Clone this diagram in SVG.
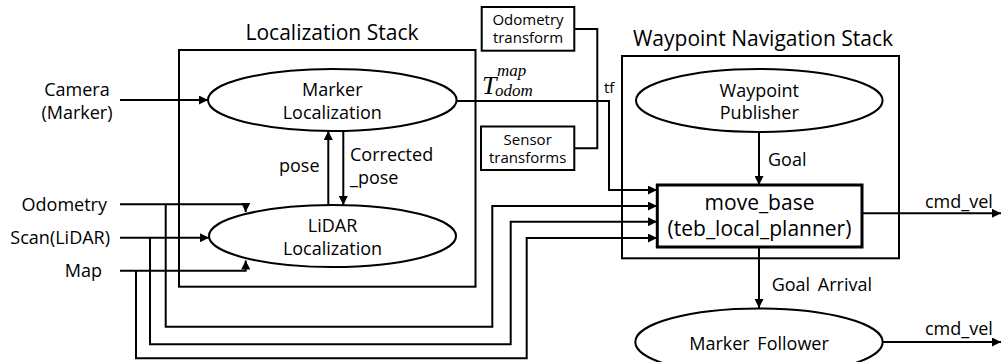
<svg xmlns="http://www.w3.org/2000/svg" width="1002" height="362" viewBox="0 0 1002 362">
<style>
text{font-family:"Open Sans","Noto Sans",sans-serif;fill:#000;font-size:18px}
.c{text-anchor:middle}
.e{text-anchor:end}
.t{font-size:21px}
.s{font-size:15px}
.b{font-size:21px}
.box{fill:#fff;stroke:#000;stroke-width:2}
.frame{fill:none;stroke:#000;stroke-width:2}
.ell{fill:#fff;stroke:#000;stroke-width:2}
.ln{fill:none;stroke:#000;stroke-width:2}
.ar{fill:none;stroke:#000;stroke-width:2;marker-end:url(#ah)}
.m{font-family:"Liberation Serif",serif;font-style:italic;font-size:17px}
.mt{font-size:26px}
</style>
<defs>
<marker id="ah" viewBox="0 0 10 10" refX="10" refY="5" markerWidth="4.5" markerHeight="4.5" orient="auto" markerUnits="strokeWidth">
<path d="M0,0 L10,5 L0,10 z" fill="#000"/>
</marker>
</defs>
<rect width="1002" height="362" fill="#fff"/>

<g id="localization-stack">
<rect class="frame" x="179" y="50" width="296.5" height="236.7"/>
<text class="c t" x="332" y="40">Localization Stack</text>
</g>
<g id="waypoint-navigation-stack">
<rect class="frame" x="622" y="56" width="277" height="202.3"/>
<text class="c t" x="763" y="46">Waypoint Navigation Stack</text>
</g>

<g id="connectors">
<path class="ar" d="M120,100 H208"/>
<path class="ar" d="M120,204.3 H245.7 V212"/>
<path class="ar" d="M120,237.7 H209"/>
<path class="ar" d="M120,270.7 H245.7 V260.5"/>
<path class="ar" d="M165.7,204.3 V326.7 H492.3 V206 H657"/>
<path class="ar" d="M150,237.7 V344.3 H510.7 V221.7 H657"/>
<path class="ar" d="M136,270.7 V358.3 H526.7 V238 H657"/>
<path class="ar" d="M456.7,101 H609 V190 H657"/>
<path class="ln" d="M574.3,29 H597.3 V148.3 H574.3"/>
<path class="ar" d="M328.3,205 V131"/>
<path class="ar" d="M343.3,131 V205"/>
<path class="ar" d="M759,132 V185"/>
<path class="ar" d="M759,247 V308"/>
<path class="ar" d="M862,213.3 H1001"/>
<path class="ar" d="M882.7,342 H1001"/>
</g>

<g id="inputs">
<text class="c" x="77" y="96">Camera</text>
<text class="c" x="77" y="119">(Marker)</text>
<text class="e" x="107" y="210.5">Odometry</text>
<text class="e" x="110" y="243.5">Scan(LiDAR)</text>
<text class="e" x="102" y="277">Map</text>
</g>

<g id="marker-localization">
<ellipse class="ell" cx="332.3" cy="100" rx="124.3" ry="31"/>
<text class="c" x="332.3" y="96">Marker</text>
<text class="c" x="332.3" y="119">Localization</text>
</g>

<g id="lidar-localization">
<ellipse class="ell" cx="332.5" cy="236" rx="123.5" ry="31"/>
<text class="c" x="332.5" y="231.5">LiDAR</text>
<text class="c" x="332.5" y="255">Localization</text>
</g>

<g id="labels">
<text x="279" y="171.5">pose</text>
<text x="350" y="161">Corrected</text>
<text x="350" y="184">_pose</text>
<text x="604" y="93" class="s">tf</text>
<text class="m mt" x="482" y="94">T</text>
<text class="m" x="497" y="76">map</text>
<text class="m" x="495" y="95.5">odom</text>
<text x="768" y="165.5">Goal</text>
<text x="771.7" y="291" style="word-spacing:3px">Goal Arrival</text>
<text x="925" y="208">cmd_vel</text>
<text x="925" y="335">cmd_vel</text>
</g>

<g id="odometry-transform">
<rect class="box" x="481.7" y="7" width="92.6" height="43.7"/>
<text class="c s" x="528" y="25">Odometry</text>
<text class="c s" x="528" y="43.3">transform</text>
</g>

<g id="sensor-transforms">
<rect class="box" x="481" y="126.5" width="93.3" height="43.5"/>
<text class="c s" x="527.7" y="145">Sensor</text>
<text class="c s" x="527.7" y="163.3">transforms</text>
</g>

<g id="waypoint-publisher">
<ellipse class="ell" cx="759.3" cy="100.5" rx="123.3" ry="31.5"/>
<text class="c" x="759.3" y="96.5">Waypoint</text>
<text class="c" x="759.3" y="119">Publisher</text>
</g>

<g id="move-base">
<rect x="657.3" y="185" width="204.7" height="62" fill="#fff" stroke="#000" stroke-width="3"/>
<text class="c b" x="759.5" y="210">move_base</text>
<text class="c b" x="759.5" y="236">(teb_local_planner)</text>
</g>

<g id="marker-follower">
<ellipse class="ell" cx="759" cy="342" rx="123.7" ry="33.5"/>
<text class="c" x="759" y="350" style="word-spacing:3px">Marker Follower</text>
</g>
</svg>
